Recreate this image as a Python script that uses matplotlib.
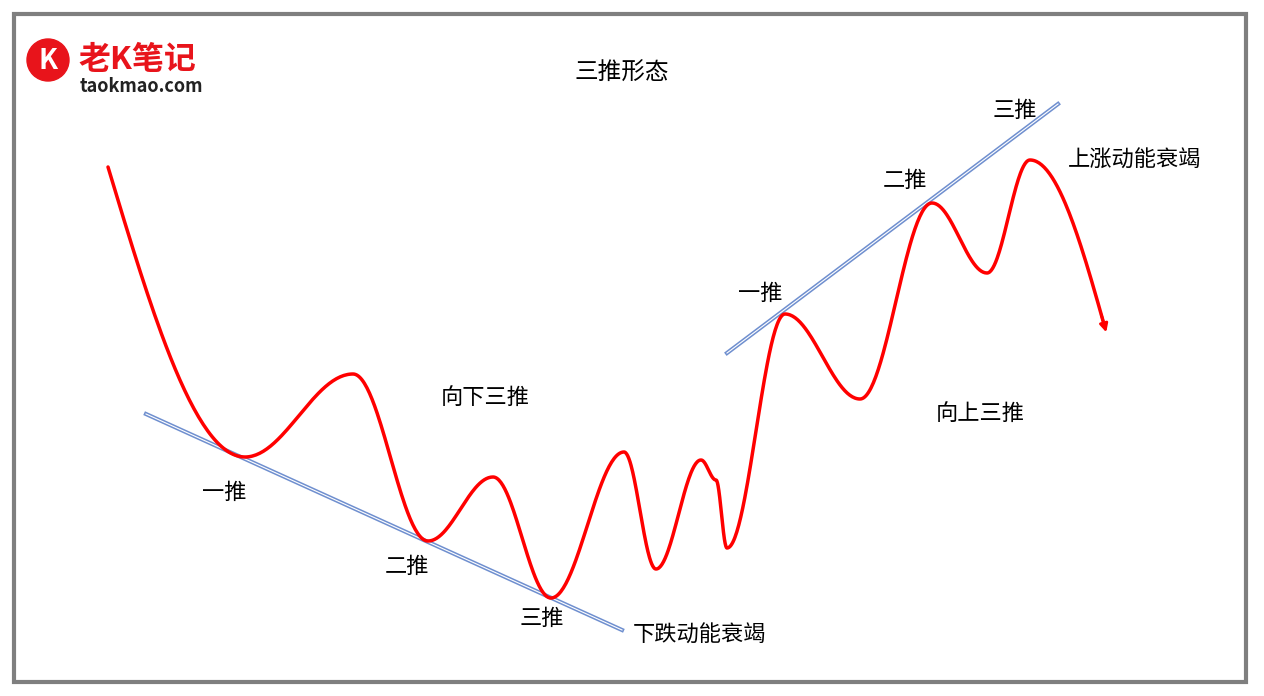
import numpy as np
import matplotlib.pyplot as plt
from matplotlib.patches import Circle, Rectangle

plt.rcParams['font.family'] = ['Noto Sans CJK SC', 'DejaVu Sans']

# key turning points of the schematic curve (pixel coords, y down)
curve_x = [108, 245, 353, 428, 493, 551, 624, 656, 701, 716, 727, 785, 860, 932, 987, 1030, 1107]
curve_y = [167, 457, 374, 541, 477, 598, 452, 569, 460, 480, 548, 314, 399, 203, 273, 160, 335]

# trend lines
low_line_x = [146, 622]
low_line_y = [414, 630]
up_line_x = [727, 1058]
up_line_y = [353, 104]

labels = [
    ("三推形态", 622, 73, 17),
    ("向下三推", 485, 397, 16),
    ("向上三推", 980, 413, 16),
    ("一推", 224, 492, 16),
    ("二推", 407, 566, 16),
    ("三推", 542, 618, 16),
    ("下跌动能衰竭", 700, 635, 16),
    ("一推", 760, 293, 16),
    ("二推", 905, 180, 16),
    ("三推", 1015, 110, 16),
    ("上涨动能衰竭", 1135, 160, 16),
]

fig = plt.figure(figsize=(12.64, 6.96), dpi=100)
ax = fig.add_axes([0, 0, 1, 1])
ax.set_xlim(0, 1264)
ax.set_ylim(696, 0)
ax.axis('off')

ax.add_patch(Rectangle((14, 14), 1232, 668, fill=False, ec='#7f7f7f', lw=3))

# smooth curve between turning points
xs, ys = [], []
n = len(curve_x)
for i in range(n - 1):
    t = np.linspace(0, 1, 60)
    x0, x1 = curve_x[i], curve_x[i + 1]
    y0, y1 = curve_y[i], curve_y[i + 1]
    if i == 0:
        s = np.sin(np.pi / 2 * t)
    elif i == n - 2:
        s = 1 - np.cos(np.pi / 2 * t)
    else:
        s = (1 - np.cos(np.pi * t)) / 2
    xs.append(x0 + (x1 - x0) * t)
    ys.append(y0 + (y1 - y0) * s)
xs = np.concatenate(xs)
ys = np.concatenate(ys)
ax.plot(xs[:-3], ys[:-3], color='#ff0000', lw=2.5, solid_capstyle='round', zorder=3)
ax.annotate('', xy=(xs[-1], ys[-1]), xytext=(xs[-6], ys[-6]),
            arrowprops=dict(arrowstyle='-|>', color='#ff0000', lw=2, mutation_scale=12), zorder=3)

for lx, ly in [(low_line_x, low_line_y), (up_line_x, up_line_y)]:
    ax.plot(lx, ly, color='#6f8fcf', lw=3, zorder=2)
    ax.plot(lx, ly, color='white', lw=0.8, zorder=2)

for txt, x, y, fs in labels:
    ax.text(x, y, txt, fontsize=fs, ha='center', va='center', color='black')

# logo
ax.add_patch(Circle((48, 60), 21, color='#e8141b', zorder=4))
ax.text(48, 61, "K", fontsize=20, fontweight='bold', color='white', ha='center', va='center', zorder=5)
ax.text(78, 60, "老K笔记", fontsize=23, fontweight='bold', color='#e8141b', ha='left', va='center')
ax.text(80, 87, "taokmao.com", fontsize=13, fontweight='bold', color='#222222', ha='left', va='center')

fig.savefig('out.png', dpi=100)
